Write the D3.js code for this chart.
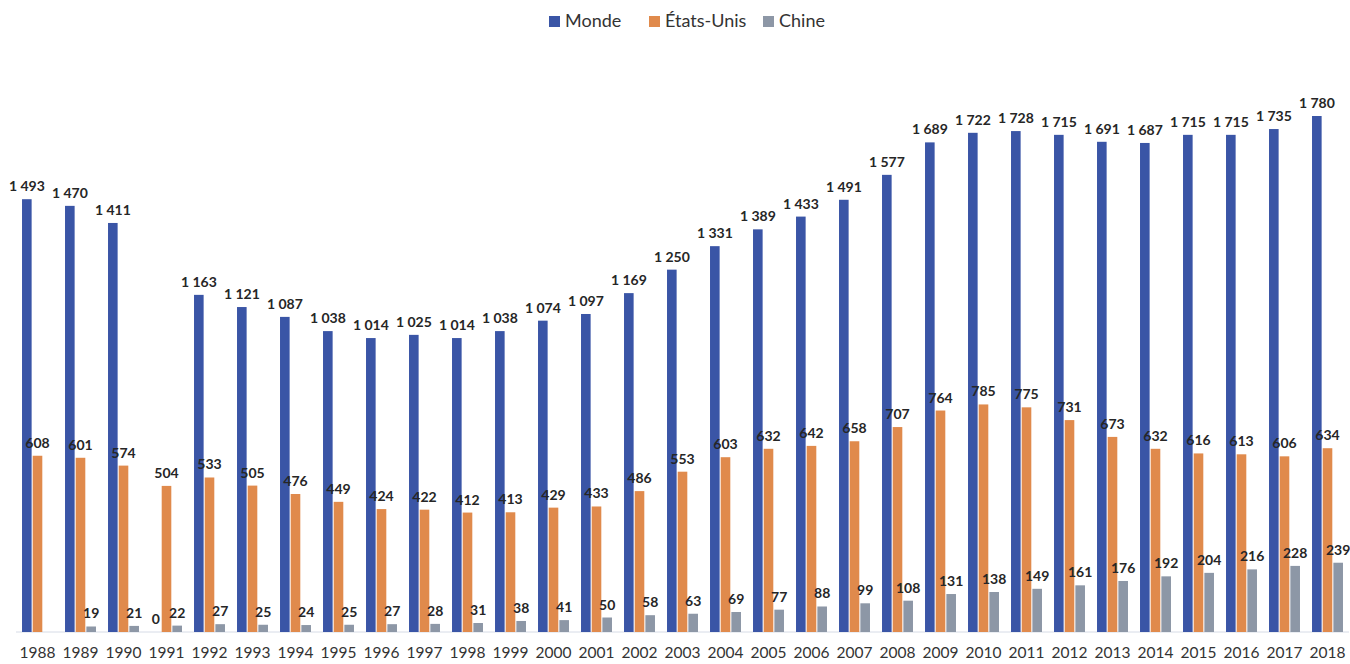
<!DOCTYPE html>
<html>
<head>
<meta charset="utf-8">
<script src="https://cdn.jsdelivr.net/npm/d3@7"></script>
<style>
  body { margin: 0; background: #fff; }
</style>
</head>
<body>
<div id="root"></div>
<script>
// data
var years = ["1988","1989","1990","1991","1992","1993","1994","1995","1996","1997","1998","1999","2000","2001","2002","2003","2004","2005","2006","2007","2008","2009","2010","2011","2012","2013","2014","2015","2016","2017","2018"];
var monde = [1493,1470,1411,0,1163,1121,1087,1038,1014,1025,1014,1038,1074,1097,1169,1250,1331,1389,1433,1491,1577,1689,1722,1728,1715,1691,1687,1715,1715,1735,1780];
var etatsUnis = [608,601,574,504,533,505,476,449,424,422,412,413,429,433,486,553,603,632,642,658,707,764,785,775,731,673,632,616,613,606,634];
var chine = [null,19,21,22,27,25,24,25,27,28,31,38,41,50,58,63,69,77,88,99,108,131,138,149,161,176,192,204,216,228,239];

var seriesNames = ["Monde", "États-Unis", "Chine"];
var seriesColors = ["#3a55a6", "#e08a4c", "#8d97a6"];
var allSeries = [monde, etatsUnis, chine];

var width = 1350, height = 664;
var margin = { top: 60, bottom: 32, left: 16, right: 1 };

// flatten into one row per bar
var bars = [];
years.forEach(function(yr, i) {
  allSeries.forEach(function(s, k) {
    if (s[i] !== null) bars.push({ year: yr, key: seriesNames[k], value: s[i], k: k });
  });
});

var svg = d3.select("#root").append("svg")
  .attr("width", width).attr("height", height);

var x = d3.scaleBand()
  .domain(years)
  .range([margin.left, width - margin.right])
  .paddingInner(0.28)
  .paddingOuter(0.14);

var xInner = d3.scaleBand()
  .domain(seriesNames)
  .range([0, x.bandwidth()])
  .paddingInner(0.1);

var y = d3.scaleLinear()
  .domain([0, 1780])
  .range([height - margin.bottom, 116]);

var fmt = d3.formatLocale({ decimal: ",", thousands: " ", grouping: [3], currency: ["", ""] }).format(",d");

// baseline
svg.append("line")
  .attr("x1", margin.left).attr("x2", width - margin.right)
  .attr("y1", y(0)).attr("y2", y(0))
  .attr("stroke", "#d6dbe6").attr("stroke-width", 1);

// bars
svg.append("g").selectAll("rect")
  .data(bars)
  .enter()
  .append("rect")
  .attr("x", function(d) { return x(d.year) + xInner(d.key); })
  .attr("y", function(d) { return y(d.value); })
  .attr("width", xInner.bandwidth())
  .attr("height", function(d) { return y(0) - y(d.value); })
  .attr("fill", function(d) { return seriesColors[d.k]; });

// value labels
svg.append("g").selectAll("text")
  .data(bars)
  .enter()
  .append("text")
  .attr("x", function(d) { return x(d.year) + xInner(d.key) + xInner.bandwidth() / 2; })
  .attr("y", function(d) { return y(d.value) - 8; })
  .attr("text-anchor", "middle")
  .attr("font-family", "Lato, sans-serif")
  .attr("font-weight", "bold")
  .attr("font-size", "14px")
  .attr("fill", "#262626")
  .text(function(d) { return fmt(d.value); });

// x axis
var xAxis = svg.append("g")
  .attr("transform", "translate(0," + y(0) + ")")
  .call(d3.axisBottom(x).tickSize(0).tickPadding(15));
xAxis.select(".domain").remove();
xAxis.selectAll("text")
  .attr("font-family", "Lato, sans-serif")
  .attr("font-size", "15.5px")
  .attr("fill", "#333");

// legend
var legendX = [549, 649, 763];
var legend = svg.append("g").selectAll("g")
  .data(seriesNames)
  .enter()
  .append("g")
  .attr("transform", function(d, i) { return "translate(" + legendX[i] + ",16)"; });
legend.append("rect")
  .attr("width", 11).attr("height", 11)
  .attr("fill", function(d, i) { return seriesColors[i]; });
legend.append("text")
  .attr("x", 16).attr("y", 11)
  .attr("font-family", "Lato, sans-serif")
  .attr("font-size", "18px")
  .attr("fill", "#333")
  .text(function(d) { return d; });
</script>
</body>
</html>
